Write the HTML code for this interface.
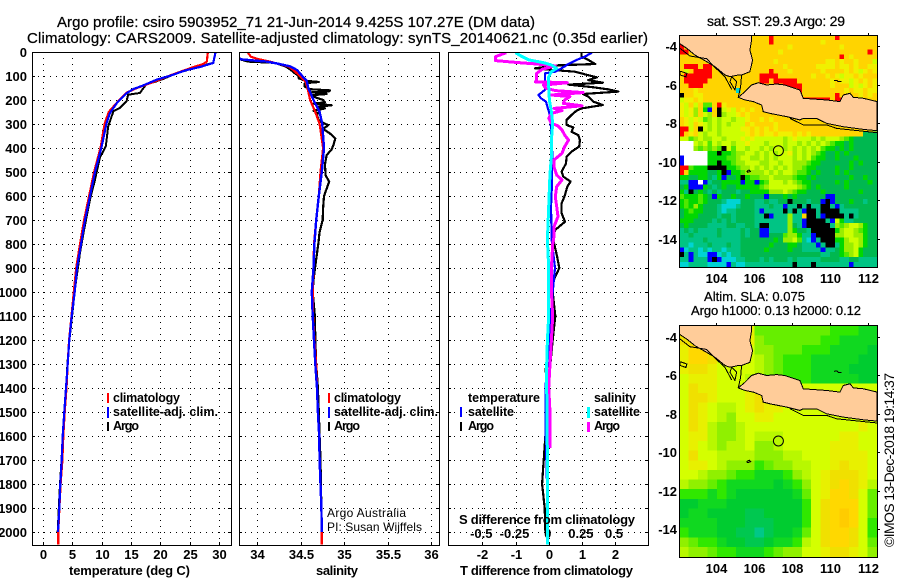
<!DOCTYPE html>
<html lang="en">
<head>
<meta charset="utf-8">
<title>Argo profile csiro 5903952_71</title>
<style>
html,body{margin:0;padding:0;background:#fff;}
svg{display:block;}
text{font-family:"Liberation Sans",Arial,sans-serif;fill:#000;}
.title{font-size:15px;stroke:#000;stroke-width:.25px;}
.tick{font-size:13px;font-weight:bold;}
.label{font-size:13px;font-weight:bold;}
.legend{font-size:12.5px;font-weight:bold;}
.credit{font-size:12px;}
</style>
</head>
<body>
<svg id="figure" xmlns="http://www.w3.org/2000/svg" width="900" height="580" viewBox="0 0 900 580">
  <defs>
    <clipPath id="clipTemp"><rect x="32" y="52" width="199" height="493"/></clipPath>
    <clipPath id="clipSal"><rect x="239" y="52" width="200" height="493"/></clipPath>
    <clipPath id="clipDiff"><rect x="448" y="52" width="200" height="493"/></clipPath>
    <clipPath id="clipMapSst"><rect x="679" y="35" width="198" height="232"/></clipPath>
    <clipPath id="clipMapSla"><rect x="679" y="325" width="198" height="232"/></clipPath>
  </defs>
  <text class="title" x="57" y="27" textLength="478">Argo profile: csiro 5903952_71 21-Jun-2014 9.425S 107.27E (DM data)</text>
  <text class="title" x="27" y="43" textLength="621">Climatology: CARS2009. Satellite-adjusted climatology: synTS_20140621.nc (0.35d earlier)</text>
  <g id="plots"></g>
  <g id="maps"></g>

  <text class="label" x="69" y="575" textLength="121">temperature (deg C)</text>
  <text class="label" x="316" y="575" textLength="42">salinity</text>
  <text class="label" x="460" y="575" textLength="173">T difference from climatology</text>
  <text class="label" x="459" y="524" textLength="176">S difference from climatology</text>

  <g>
    <rect x="107" y="393" width="2" height="10" fill="#f00"/>
    <text class="legend" x="113" y="402" textLength="67">climatology</text>
    <rect x="107" y="407" width="2" height="11" fill="#00f"/>
    <text class="legend" x="113" y="416" textLength="105">satellite-adj. clim.</text>
    <rect x="107" y="422" width="2" height="9" fill="#000"/>
    <text class="legend" x="113" y="430" textLength="26">Argo</text>
  </g>
  <g>
    <rect x="328" y="393" width="2" height="10" fill="#f00"/>
    <text class="legend" x="334" y="402" textLength="67">climatology</text>
    <rect x="328" y="407" width="2" height="11" fill="#00f"/>
    <text class="legend" x="334" y="416" textLength="104">satellite-adj. clim.</text>
    <rect x="328" y="422" width="2" height="9" fill="#000"/>
    <text class="legend" x="334" y="430" textLength="26">Argo</text>
    <text class="credit" x="327" y="517" textLength="79">Argo Australia</text>
    <text class="credit" x="327" y="531" textLength="95">PI: Susan Wijffels</text>
  </g>
  <g>
    <text class="legend" x="468" y="402" textLength="72">temperature</text>
    <rect x="460" y="407" width="2" height="10" fill="#00f"/>
    <text class="legend" x="468" y="416" textLength="46">satellite</text>
    <rect x="460" y="422" width="2" height="9" fill="#000"/>
    <text class="legend" x="468" y="430" textLength="26">Argo</text>
    <text class="legend" x="594" y="402" textLength="42">salinity</text>
    <rect x="587" y="407" width="3" height="11" fill="#0ff"/>
    <text class="legend" x="594" y="416" textLength="46">satellite</text>
    <rect x="587" y="422" width="3" height="10" fill="#f0f"/>
    <text class="legend" x="594" y="430" textLength="26">Argo</text>
  </g>

  <text class="title" style="font-size:14px" x="707" y="26" textLength="138">sat. SST: 29.3 Argo: 29</text>
  <text class="title" style="font-size:13px" x="704" y="301" textLength="101">Altim. SLA: 0.075</text>
  <text class="title" style="font-size:13px" x="691" y="315" textLength="170">Argo h1000: 0.13 h2000: 0.12</text>
  <text style="font-size:14px" transform="rotate(-90 894 547)" x="894" y="547" textLength="174">©IMOS 13-Dec-2018 19:14:37</text>
</svg>
<script>
// ---------- profile axis ticks ----------
const depthTicks = [0,100,200,300,400,500,600,700,800,900,1000,1100,1200,1300,1400,1500,1600,1700,1800,1900,2000];
const tempTicks = [0,5,10,15,20,25,30];
const salTicks = [34,34.5,35,35.5,36];
const tDiffTicks = [-2,-1,0,1,2];
const sDiffTicks = [-0.5,-0.25,0,0.25,0.5];

// ---------- temperature panel ----------
const climDepth = [0,40,50,60,75,100,125,150,170,200,250,300,400,500,600,700,800,900,1000,1100,1200,1300,1400,1500,1600,1700,1800,1900,2000,2053];
const climTemp = [28.1,27.9,27.3,26,24.2,21.4,18.8,16,14.2,13,11.2,10.5,9.8,8.7,7.85,7,6.3,5.65,5.25,4.85,4.45,4.2,4,3.7,3.45,3.3,3,2.8,2.6,2.6];
const satDepth = [0,46,62,76,99,115,140,154,171,212,254,299,393,500,600,700,800,900,1000,1100,1200,1300,1400,1500,1600,1700,1800,1900,2000];
const satTemp = [29.4,29,26.8,24.4,21.6,19.4,17,15.4,14.3,12.6,11.4,10.8,10,8.86,8,7.15,6.47,5.8,5.4,4.89,4.48,4.2,3.92,3.63,3.35,3.18,2.95,2.78,2.56];
const argoTempDepth = [0,45,55,67,94,112,125,132,171,178,205,233,247,310,393,440,532,615,740,837,935,987,1100,1200,1300,1400,1500,1600,1700,1800,1900,2000];
const argoTemp = [29.4,29,27.5,25.6,22.2,20.5,19,17.65,16.5,14.5,14.25,13.1,12,11.1,10.7,9.7,8.86,8,7,6.3,5.74,5.45,4.95,4.5,4.15,3.95,3.65,3.35,3.15,2.9,2.7,2.5];

// ---------- salinity panel ----------
const climSal = [33.89,33.93,34.02,34.15,34.25,34.36,34.42,34.49,34.56,34.58,34.61,34.67,34.72,34.74,34.76,34.73,34.71,34.68,34.655,34.65,34.64,34.645,34.66,34.68,34.69,34.70,34.715,34.72,34.73,34.74,34.745,34.745];
const climSalDepth = [0,20,30,40,50,60,75,100,125,150,200,250,300,350,400,500,600,700,800,900,1000,1100,1200,1300,1400,1500,1600,1700,1800,1900,2000,2053];
const satSalDepth = [0,30,35,40,50,60,75,100,120,150,200,250,300,350,400,500,600,700,800,900,1000,1100,1200,1300,1400,1500,1600,1700,1800,1900,2000];
const satSal = [33.78,33.8,33.95,34.11,34.26,34.38,34.46,34.52,34.57,34.59,34.65,34.72,34.75,34.76,34.77,34.745,34.71,34.68,34.66,34.65,34.63,34.64,34.655,34.67,34.69,34.70,34.715,34.72,34.73,34.74,34.745];
const argoSalDepth = [30,40,45,60,75,90,100,110,120,125,130,145,155,160,165,168,175,180,190,200,210,215,222,228,235,245,255,265,285,295,305,320,340,360,385,405,430,470,515,540,570,600,650,700,750,800,900,950,1000,1100,1200,1300,1400,1500,1600,1700,1800,1900,2000];
const argoSal = [33.8,33.9,34.2,34.33,34.39,34.44,34.48,34.48,34.56,34.71,34.55,34.55,34.61,34.84,34.82,34.63,34.80,34.63,34.68,34.76,34.78,34.65,34.86,34.69,34.78,34.65,34.70,34.69,34.71,34.76,34.82,34.76,34.84,34.90,34.88,34.86,34.80,34.78,34.79,34.83,34.80,34.77,34.76,34.755,34.72,34.705,34.667,34.65,34.64,34.665,34.67,34.68,34.70,34.71,34.72,34.73,34.735,34.74,34.745];

// ---------- difference panel ----------
const diffTArgoDepth = [3,19,33,50,56,68,75,82,93,106,117,128,136,147,156,165,175,186,207,221,235,244,262,283,304,314,332,346,367,394,415,436,464,499,519,540,561,596,631,672,707,742,783,850,900,950,1000,1100,1200,1300,1320,1400,1500,1600,1700,1800,1900,2000];
const diffTArgo = [0.99,0.99,1.19,1.40,0.24,-0.41,0.14,0.79,1.09,1.45,1.19,1.63,0.59,1.35,1.80,2.10,1.04,1.19,1.35,1.63,0.99,0.84,0.69,0.54,0.54,0.74,0.69,0.89,0.94,0.92,0.69,0.54,0.52,0.39,0.44,0.66,0.56,0.49,0.39,0.39,0.49,0.19,0.14,0.25,0.32,0.15,0.12,0.2,0.12,0.05,-0.1,-0.02,-0.05,-0.1,-0.15,-0.2,-0.12,-0.1];
const diffTSatDepth = [3,19,33,50,68,82,89,110,138,158,179,193,207,228,256,297,367,436,506,575,644,783,900,1000,1100,1200,1400,1550,1800,2000];
const diffTSat = [1.3,1.09,0.84,0.59,0.39,0.19,-0.11,-0.11,-0.11,-0.11,-0.31,-0.23,-0.08,-0.04,0.02,0.06,0.09,0.11,0.1,0.09,0.07,0.09,0.19,0.12,0.06,0.02,-0.1,-0.1,-0.05,-0.05];
const diffSArgoDepth = [3,19,36,44,50,58,72,89,114,124,128,138,151,161,169,179,186,200,214,224,235,244,256,276,297,308,325,346,367,394,422,450,478,513,533,561,603,644,686,728,769,800,900,1000,1100,1200,1300,1400,1500,1650];
const diffSArgo = [-0.32,-0.40,-0.40,-0.23,-0.09,0.05,-0.05,-0.09,-0.09,-0.10,0.14,-0.04,-0.02,0.05,0.26,0.02,0.16,0.12,0.11,0.25,0.04,0.10,0.02,0,0.02,0.07,0.10,0.12,0.15,0.12,0.10,0.04,0.04,0.06,0.10,0.06,0.05,0.06,0.07,0.04,0.04,0.03,0.02,0.02,0.03,0.02,0.01,0,0.01,0.01];
const diffSSatDepth = [3,19,33,44,54,68,82,103,144,200,249,297,367,436,506,644,783,900,1000,1100,1200,1300,1400,1700,2053];
const diffSSat = [-0.25,-0.20,-0.15,-0.04,0.02,0.06,0.02,0,0,0.005,0.02,0.03,0.02,0.02,0.01,0,-0.01,0,0,0,-0.01,-0.015,-0.015,-0.01,-0.01];

// ---------- map axes ----------
const lonTicks = [104,106,108,110,112];
const latTicks = [-4,-6,-8,-10,-12,-14];
const floatLon = [107.27];
const floatLat = [-9.425];

// SST map cells: one char per 0.25 degree cell, base-36 colour level (0 coldest .. b warmest), w = no data
const sstRows = [
"aaaaaaaaaaaaaaaa aaabaaaaaaaaaaaaabaaaaaaaaa",
"aaaaaaaaaaaaaaaa aaabaaaaaaaaaa9aaaaaaaaaaa",
"baaaaaaaaaaaaaaa aaaaaaa9aaaaaaaaaa9aaaaaaa",
"bbaaaaaaaaaaaaaa aaaaa9aaaaaaaaaaaaaaaaaaba",
"aaaaaaaaaaaaaaaa aaaaaaaaaaaaaaaaaaba9aaaaa",
"aaaaaaaaaaaaaaaa aaaa9aaaaaaaaaa99a9aa9aaa8",
"abbbabbaaaaaaaaa aaaaaa9aaaaaa9999a99a9aa99",
"a8abbbbaaaaaaaaa aaabaaa9aaaaaa9aaaa9a989a9",
"abbbbbbaaaaaaaaa abbbbaaaaaaa9aa9a9899a9aaa",
"abbbbbaaaaaaaaaa abbabbbbbaaaaaaa9a9989a9a9",
"aabbbaaaaaaaaaaa aaaaaabbbbaaaaaa9aaa8989a9",
"aaa9aaaaaaaa2aaa aaaaaaaaabaaaaaaaaa9a99a99",
"0aa99aaaaaaaaaaa aaaaaaaaaaaaaaaaabaaaa9a9a",
"899a9aaaaaaaaaaa aaaaaaaaaabbbbbbabbaaaaaaa",
"98a8a66ab9aaaaaa aaaaaaaaaaaaaaaaaaaaaaaaaa",
"9897a51a0898a9a9 aaaaaaaaaaaaaaaaaaaaaaaaaa",
"9897a87a07889a9a aaaaaaaaaaaaaaaaaaaaaaaaaa",
"a98986787887889a a9a9aaaaaaaaaaaaaaaaaaaaaa",
"a98a9878787888a9 aaaa9aaaaaaaaaaaaaaaaaaaaa",
"bb8a08787888899a 9a9a9aaaaaaaaaaaaaaaaaaaaa",
"ba9a87887888889a 9a99a999a9a9aaaaaaaaaaa444",
"8867877887888989 88888878988878788876544444",
"www8786878878898 88788878878787876554544444",
"www7676760868878 87878878787878655454544444",
"wwwwww5505567788 78787889787876544545444444",
"1wwwww5555667887 78787888787865544544454444",
"1wwwww5505567788 87788788777655444444545444",
"bb65550000556778 78787878776554444544544444",
"ba55554450155677 77878788766545444545444444",
"5544554351445056 67787777655454444444544544",
"3311w13445555155 15688878765544444545444454",
"4511154345445555 56788888876545444445444444",
"5304543434443445 55577787655444544444445444",
"6555654154454454 44144454544444411444444444",
"5655654443222444 33433440444344101444544344",
"5657544432223444 33343313303033003134444444",
"4565544432334444 31333303031003000033334444",
"4555444434434444 3301333733a003100003034444",
"5554444343434444 33333337331000031853344444",
"4544443333443344 30033337431000003767887544",
"3434333343333434 41133337544300000578876544",
"3343333343333434 41144467753310000778877544",
"3333343333333444 44445477863213000557887544",
"3323334333433444 44454445543331300357787544",
"1233232332333444 44544445443333133457785444",
"0313221123233444 44444444444444334456785444",
"3313331012223344 43434443433333444433443333",
"2233332222132233 33333333033303333333133333"
];
const sstLevelColors = ["#000000","#0000ff","#00d4d4","#00c484","#00b850","#00d800","#50e800","#99ee00","#ccff00","#f0f000","#ffd400","#ff0000"];

// SLA map cells: one char per 0.5 degree cell, base-36 colour level (0 lowest .. c highest)
const slaRows = [
"999999995555555544433",
"aaa999996555555443333",
"9bb988886655544433332",
"9bba88887654443333322",
"9aa988887654443333222",
"899988877554443333322",
"8a9988899999888888888",
"8aa98889a998888888888",
"8a987789a998888888888",
"8a9876889988888888888",
"8a9766788888888888898",
"899766787778888889988",
"898767786678888899988",
"8a8877776667788899998",
"89987666456677889a998",
"8876654433346789aaa98",
"7665433333234689aba97",
"4443432222223589bba85",
"223332222222248abbb85",
"233222211222248abcb85",
"333322211122248abcb84",
"433322110122358abba84",
"654432211233478abba85",
"7665443334566889aa986"
];
const slaLevelColors = ["#00c888","#00c850","#00cc30","#10d820","#30e800","#66ee00","#90f000","#b8f800","#d4ff00","#e8f000","#f0e000","#ffd800","#ffcc00"];

// Coastlines as [lon, lat] vertices
const sumatraCoast = [[102.05,-3.43],[105.86,-3.43],[105.86,-3.69],[105.77,-4.21],[105.91,-4.73],[105.77,-5.33],[105.33,-5.5],[105.16,-5.5],[104.72,-5.59],[104.46,-5.5],[103.93,-5.07],[103.49,-4.81],[102.88,-4.47],[102.44,-4.12],[102.05,-3.86]];
const javaCoast = [[105.86,-6.02],[106.21,-5.90],[106.65,-6.02],[107.18,-5.97],[107.61,-6.02],[108.40,-6.28],[108.58,-6.71],[109.81,-6.80],[110.51,-6.88],[110.68,-6.54],[111.04,-6.45],[111.21,-6.66],[111.74,-6.71],[112.47,-6.88],[112.47,-8.39],[111.74,-8.32],[110.68,-8.18],[109.81,-8.01],[109.28,-7.75],[108.58,-7.75],[108.40,-7.83],[107.70,-7.66],[106.82,-7.49],[106.47,-7.40],[106.39,-7.06],[105.95,-6.88],[105.51,-6.80],[105.16,-6.66],[105.51,-6.37]];
const javaOffshore = [[107.88,-7.75],[108.58,-8.09],[109.81,-8.09],[110.33,-8.27],[112.47,-8.49]];
const sumatraOffshore = [[102.05,-4.09],[102.61,-4.52],[103.49,-4.66],[103.93,-5.11],[104.46,-5.6],[104.81,-6.25]];
const sundaIsland = [[104.81,-5.59],[105.07,-5.85],[104.98,-6.28],[104.72,-5.85],[104.81,-5.59]];
const sundaStrait = [[105.33,-5.5],[105.28,-6.11],[105.16,-6.66]];
const engganoIsland = [[102.1,-5.3],[102.45,-5.42],[102.4,-5.6],[102.1,-5.5],[102.1,-5.3]];
const christmasIsland = [[105.6,-10.5],[105.72,-10.42],[105.8,-10.5],[105.65,-10.55],[105.6,-10.5]];
const karimunIslands = [[110.2,-5.8],[110.35,-5.78],[110.42,-5.85],[110.6,-5.85]];

// ---------- drawing ----------
const SVGNS = 'http://www.w3.org/2000/svg';
const plots = document.getElementById('plots');
const maps = document.getElementById('maps');

function make(parent, tag, name, interactable, attrs, content) {
  const el = document.createElementNS(SVGNS, tag);
  
  
  for (const k in attrs) el.setAttribute(k, attrs[k]);
  if (content !== undefined) el.textContent = content;
  parent.appendChild(el);
  return el;
}
const yDepth = d => 52 + d * 0.24;
const xTemp = v => 43 + v * 5.87;
const xSal = v => 257 + (v - 34) * 87;
const xDiffT = v => 548.7 + v * 33.2;
const xDiffS = v => 548.7 + v * 132.8;

function panelGrid(parent, name, left, right, xTicks, xFn, labels, showY) {
  const g = make(parent, 'g', name + '-grid', 'false', {});
  const top = 52, bottom = 545;
  depthTicks.forEach(d => {
    const y = Math.round(yDepth(d)) + 0.5;
    make(g, 'line', name + '-hgrid', 'false', {x1:left, x2:right, y1:y, y2:y, stroke:'#000', 'stroke-width':1, 'stroke-dasharray':'1 5', 'shape-rendering':'crispEdges'});
    make(g, 'line', name + '-ytick', 'false', {x1:left, x2:left+3, y1:y, y2:y, stroke:'#000', 'shape-rendering':'crispEdges'});
    make(g, 'line', name + '-ytick', 'false', {x1:right-3, x2:right, y1:y, y2:y, stroke:'#000', 'shape-rendering':'crispEdges'});
    if (showY) make(g, 'text', 'depth-tick-label', 'false', {x:27, y:y+4.5, 'text-anchor':'end', class:'tick'}, d);
  });
  xTicks.forEach((t, i) => {
    const x = Math.round(xFn(t)) + 0.5;
    make(g, 'line', name + '-vgrid', 'false', {x1:x, x2:x, y1:top, y2:bottom, stroke:'#000', 'stroke-width':1, 'stroke-dasharray':'1 5', 'shape-rendering':'crispEdges'});
    make(g, 'line', name + '-xtick', 'false', {x1:x, x2:x, y1:bottom-3, y2:bottom, stroke:'#000', 'shape-rendering':'crispEdges'});
    make(g, 'text', name + '-x-tick-label', 'false', {x:x, y:559, 'text-anchor':'middle', class:'tick'}, labels ? labels[i] : t);
  });
}
function frame(parent, name, x, y, w, h) {
  make(parent, 'rect', name + '-frame', 'false', {x:x+0.5, y:y+0.5, width:w, height:h, fill:'none', stroke:'#000', 'stroke-width':1, 'shape-rendering':'crispEdges'});
}
function curve(parent, name, xs, depths, xFn, color, width, clip) {
  const pts = xs.map((v, i) => xFn(v).toFixed(1) + ',' + yDepth(depths[i]).toFixed(1)).join(' ');
  make(parent, 'polyline', name, 'false', {points:pts, fill:'none', stroke:color, 'stroke-width':width, 'stroke-linejoin':'round', 'shape-rendering':'crispEdges', 'clip-path':'url(#' + clip + ')'});
}

// temperature panel
panelGrid(plots, 'temperature', 32, 231, tempTicks, xTemp, null, true);
curve(plots, 'argo-temperature-line', argoTemp, argoTempDepth, xTemp, '#000', 2, 'clipTemp');
curve(plots, 'climatology-temperature-line', climTemp, climDepth, xTemp, '#f00', 2.2, 'clipTemp');
curve(plots, 'satellite-temperature-line', satTemp, satDepth, xTemp, '#00f', 2.2, 'clipTemp');
frame(plots, 'temperature-panel', 32, 52, 199, 493);

// salinity panel
panelGrid(plots, 'salinity', 239, 439, salTicks, xSal, null, false);
curve(plots, 'argo-salinity-line', argoSal, argoSalDepth, xSal, '#000', 2.2, 'clipSal');
curve(plots, 'climatology-salinity-line', climSal, climSalDepth, xSal, '#f00', 2.2, 'clipSal');
curve(plots, 'satellite-salinity-line', satSal, satSalDepth, xSal, '#00f', 2.4, 'clipSal');
frame(plots, 'salinity-panel', 239, 52, 200, 493);

// difference panel
panelGrid(plots, 'difference', 448, 648, tDiffTicks, xDiffT, null, false);
sDiffTicks.forEach(t => {
  make(plots, 'text', 's-difference-tick-label', 'false', {x:xDiffS(t) - 1, y:538, 'text-anchor':'middle', class:'tick'}, t);
});
curve(plots, 'argo-t-difference-line', diffTArgo, diffTArgoDepth, xDiffT, '#000', 2.2, 'clipDiff');
curve(plots, 'satellite-t-difference-line', diffTSat, diffTSatDepth, xDiffT, '#00f', 2.2, 'clipDiff');
curve(plots, 'argo-s-difference-line', diffSArgo, diffSArgoDepth, xDiffS, '#f0f', 3, 'clipDiff');
curve(plots, 'satellite-s-difference-line', diffSSat, diffSSatDepth, xDiffS, '#0ff', 3, 'clipDiff');
frame(plots, 'difference-panel', 448, 52, 200, 493);

// maps
const xLon = lon => 716.3 + (lon - 104) * 19;
function mapPanel(name, clip, top, bottom, lat4y, latScale, rows, colors, stepLon, stepLat, tickBase) {
  const yLat = lat => lat4y + (-4 - lat) * latScale;
  const root = make(maps, 'g', name, 'false', {});
  const cells = make(root, 'g', name + '-cells', 'false', {'clip-path':'url(#' + clip + ')', 'shape-rendering':'crispEdges'});
  const lonStart = 102.05, latStart = -3.43;
  rows.forEach((row, r) => {
    const cleaned = row.replace(/ /g, '');
    for (let c = 0; c < cleaned.length; c++) {
      const ch = cleaned[c];
      const fill = ch === 'w' ? '#ffffff' : colors[parseInt(ch, 36)];
      const x0 = xLon(lonStart + c * stepLon), x1 = xLon(lonStart + (c + 1) * stepLon);
      const y0 = yLat(latStart - r * stepLat), y1 = yLat(latStart - (r + 1) * stepLat);
      make(cells, 'rect', name + '-cell', 'false', {x:x0.toFixed(2), y:y0.toFixed(2), width:(x1 - x0 + 0.4).toFixed(2), height:(y1 - y0 + 0.4).toFixed(2), fill:fill});
    }
  });
  const geo = make(root, 'g', name + '-coast', 'false', {'clip-path':'url(#' + clip + ')'});
  const toPts = arr => arr.map(p => xLon(p[0]).toFixed(1) + ',' + yLat(p[1]).toFixed(1)).join(' ');
  make(geo, 'polygon', 'sumatra-land', 'false', {points:toPts(sumatraCoast), fill:'#ffcc99', stroke:'#000', 'stroke-width':1, 'shape-rendering':'crispEdges'});
  make(geo, 'polygon', 'java-land', 'false', {points:toPts(javaCoast), fill:'#ffcc99', stroke:'#000', 'stroke-width':1, 'shape-rendering':'crispEdges'});
  [['java-offshore-line', javaOffshore], ['sumatra-offshore-line', sumatraOffshore], ['sunda-island', sundaIsland], ['sunda-strait-line', sundaStrait], ['enggano-island', engganoIsland], ['christmas-island', christmasIsland], ['karimun-islands', karimunIslands]].forEach(item => {
    make(geo, 'polyline', item[0], 'false', {points:toPts(item[1]), fill:'none', stroke:'#000', 'stroke-width':1, 'shape-rendering':'crispEdges'});
  });
  make(root, 'circle', name + '-float-position', 'false', {cx:xLon(floatLon[0]).toFixed(1), cy:yLat(floatLat[0]).toFixed(1), r:5, fill:'none', stroke:'#000', 'stroke-width':1});
  frame(root, name, 679, top, 198, bottom - top);
  lonTicks.forEach(l => {
    const x = Math.round(xLon(l)) + 0.5;
    make(root, 'line', name + '-lon-tick', 'false', {x1:x, x2:x, y1:top - 2, y2:top, stroke:'#000', 'shape-rendering':'crispEdges'});
    make(root, 'text', name + '-lon-label', 'false', {x:x, y:tickBase, 'text-anchor':'middle', class:'tick'}, l);
  });
  latTicks.forEach(l => {
    const y = Math.round(yLat(l)) + 0.5;
    make(root, 'line', name + '-lat-tick', 'false', {x1:877, x2:880, y1:y, y2:y, stroke:'#000', 'shape-rendering':'crispEdges'});
    make(root, 'text', name + '-lat-label', 'false', {x:677, y:y + 4.5, 'text-anchor':'end', class:'tick'}, l);
  });
}
mapPanel('sst-map', 'clipMapSst', 35, 267, 46, 19.3, sstRows, sstLevelColors, 0.248, 0.25, 283);
mapPanel('sla-map', 'clipMapSla', 325, 557, 336.7, 19.23, slaRows, slaLevelColors, 0.496, 0.5, 573);
</script>
</body>
</html>
